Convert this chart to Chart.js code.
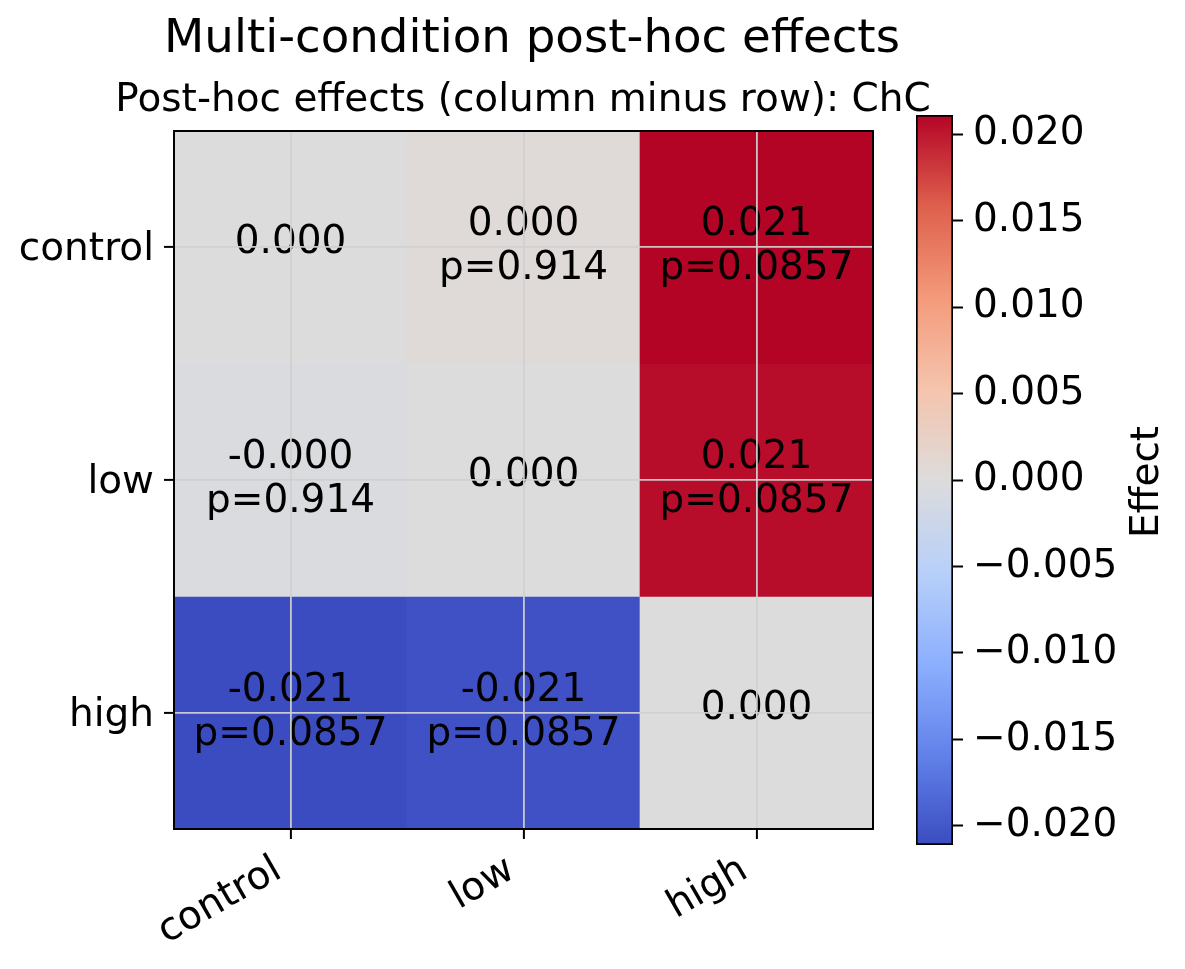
<!DOCTYPE html>
<html>
<head>
<meta charset="utf-8">
<script src="https://cdn.jsdelivr.net/npm/chart.js@4.4.1/dist/chart.umd.min.js"></script>
<style>
    body { margin: 0; background: #fff; }
    #wrap { position: relative; width: 1185px; height: 969px; }
    #heatChart { position: absolute; left: 0; top: 0; }
    #barChart { position: absolute; left: 880px; top: 0; }
</style>
</head>
<body>
<div id="wrap">
    <canvas id="heatChart" width="1185" height="969"></canvas>
    <canvas id="barChart" width="305" height="969"></canvas>
</div>
<script>
// conditions (rows and columns)
const conditions = ['control', 'low', 'high'];

// effect = column minus row, one array per row
const effectControl = [0, 0.0004, 0.0211];
const effectLow = [-0.0004, 0, 0.0206];
const effectHigh = [-0.0211, -0.0206, 0];

// p values, null on the diagonal
const pControl = [null, 0.914, 0.0857];
const pLow = [0.914, null, 0.0857];
const pHigh = [0.0857, 0.0857, null];

// colorbar ticks
const colorbarTicks = [-0.020, -0.015, -0.010, -0.005, 0, 0.005, 0.010, 0.015, 0.020];

const effects = [effectControl, effectLow, effectHigh];
const pValues = [pControl, pLow, pHigh];

const vmax = Math.max(...effects.flat().map(Math.abs));
const vmin = -vmax;

const FONT = "'DejaVu Sans', sans-serif";
Chart.defaults.color = '#000';
Chart.defaults.font.family = FONT;

// coolwarm stops
const coolwarmStops = [
    [0.0, [59, 76, 192]],
    [0.125, [98, 130, 234]],
    [0.25, [141, 176, 254]],
    [0.375, [184, 208, 249]],
    [0.5, [221, 220, 220]],
    [0.625, [245, 196, 173]],
    [0.75, [244, 154, 123]],
    [0.875, [222, 96, 77]],
    [1.0, [180, 4, 38]]
];

function coolwarm(t) {
    t = Math.min(1, Math.max(0, t));
    for (let i = 1; i < coolwarmStops.length; i++) {
        const [t1, c1] = coolwarmStops[i];
        const [t0, c0] = coolwarmStops[i - 1];
        if (t <= t1) {
            const f = (t - t0) / (t1 - t0);
            const c = c0.map((v, k) => Math.round(v + (c1[k] - v) * f));
            return 'rgb(' + c.join(',') + ')';
        }
    }
}

function colorFor(v) {
    return coolwarm((v - vmin) / (vmax - vmin));
}

// titles drawn by hand so canvas does not squeeze them into the plot width
const titles = {
    id: 'titles',
    afterDraw(chart) {
        const ctx = chart.ctx;
        ctx.save();
        ctx.fillStyle = '#000';
        ctx.textAlign = 'center';
        ctx.textBaseline = 'middle';
        ctx.font = '46.7px ' + FONT;
        ctx.fillText('Multi-condition post-hoc effects', 532, 40);
        ctx.font = '39px ' + FONT;
        ctx.fillText('Post-hoc effects (column minus row): ChC', 523, 101);
        ctx.restore();
    }
};

// cell annotations, drawn before the grid (grid sits on top, like the original)
const cellText = {
    id: 'cellText',
    afterDatasetsDraw(chart) {
        const ctx = chart.ctx;
        const xs = chart.scales.x, ys = chart.scales.y;
        ctx.save();
        ctx.font = '39px ' + FONT;
        ctx.fillStyle = '#000';
        ctx.textAlign = 'center';
        ctx.textBaseline = 'middle';
        effects.forEach(function (row, r) {
            row.forEach(function (v, c) {
                const x = xs.getPixelForValue(c);
                const y = ys.getPixelForValue(r);
                const p = pValues[r][c];
                if (p === null) {
                    ctx.fillText(v.toFixed(3), x, y - 4);
                } else {
                    ctx.fillText(v.toFixed(3), x, y - 22);
                    ctx.fillText('p=' + p.toPrecision(3), x, y + 22);
                }
            });
        });
        ctx.restore();
    }
};

const frame = {
    id: 'frame',
    afterDraw(chart) {
        const a = chart.chartArea;
        const ctx = chart.ctx;
        ctx.save();
        ctx.strokeStyle = '#000';
        ctx.lineWidth = 2;
        ctx.strokeRect(a.left, a.top, a.right - a.left, a.bottom - a.top);
        ctx.restore();
    }
};

var heatChart = new Chart(document.getElementById('heatChart').getContext('2d'), {
    type: 'bar',
    data: {
        labels: conditions,
        datasets: effects.map(function (row, r) {
            return {
                label: conditions[r],
                data: conditions.map(() => [r - 0.5, r + 0.5]),
                backgroundColor: row.map(colorFor),
                borderWidth: 0,
                grouped: false,
                barPercentage: 1,
                categoryPercentage: 1
            };
        })
    },
    options: {
        responsive: false,
        animation: false,
        layout: { padding: { left: 0, right: 312, top: 131, bottom: 0 } },
        plugins: {
            legend: { display: false },
            tooltip: { enabled: false }
        },
        scales: {
            x: {
                z: 1,
                offset: true,
                grid: {
                    z: 1,
                    offset: false,
                    color: 'rgba(208,208,208,0.95)',
                    lineWidth: 1.8,
                    tickColor: '#000',
                    tickWidth: 2,
                    tickLength: 10
                },
                border: { color: '#000', width: 2, z: 2 },
                ticks: {
                    font: { size: 39 },
                    minRotation: 30,
                    maxRotation: 30,
                    padding: 8,
                    labelOffset: -12
                },
                afterFit: function (scale) { scale.height = 140; }
            },
            y: {
                z: 1,
                type: 'linear',
                reverse: true,
                min: -0.5,
                max: 2.5,
                afterBuildTicks: function (scale) {
                    scale.ticks = conditions.map((c, i) => ({ value: i }));
                },
                grid: {
                    z: 1,
                    color: 'rgba(208,208,208,0.95)',
                    lineWidth: 1.8,
                    tickColor: '#000',
                    tickWidth: 2,
                    tickLength: 10
                },
                border: { color: '#000', width: 2, z: 2 },
                ticks: {
                    font: { size: 39 },
                    padding: 10,
                    labelOffset: 3,
                    callback: function (v) { return conditions[v]; }
                },
                afterFit: function (scale) { scale.width = 174; }
            }
        }
    },
    plugins: [cellText, frame, titles]
});

// colorbar
const effectLabel = {
    id: 'effectLabel',
    afterDraw(chart) {
        const ctx = chart.ctx;
        ctx.save();
        ctx.translate(268, 482);
        ctx.rotate(-Math.PI / 2);
        ctx.font = '39px ' + FONT;
        ctx.fillStyle = '#000';
        ctx.textAlign = 'center';
        ctx.textBaseline = 'middle';
        ctx.fillText('Effect', 0, 0);
        ctx.restore();
    }
};

var barChart = new Chart(document.getElementById('barChart').getContext('2d'), {
    type: 'bar',
    data: {
        labels: ['Effect'],
        datasets: [{
            data: [[vmin, vmax]],
            backgroundColor: function (context) {
                const area = context.chart.chartArea;
                if (!area) return '#ddd';
                const g = context.chart.ctx.createLinearGradient(0, area.bottom, 0, area.top);
                coolwarmStops.forEach(s => g.addColorStop(s[0], coolwarm(s[0])));
                return g;
            },
            borderColor: '#000',
            borderWidth: 2,
            borderSkipped: false,
            barPercentage: 1,
            categoryPercentage: 1
        }]
    },
    options: {
        responsive: false,
        animation: false,
        layout: { padding: { left: 36, top: 115, bottom: 124, right: 0 } },
        plugins: { legend: { display: false }, tooltip: { enabled: false } },
        scales: {
            x: { display: false },
            y: {
                position: 'right',
                min: vmin,
                max: vmax,
                afterBuildTicks: function (scale) {
                    scale.ticks = colorbarTicks.map(v => ({ value: v }));
                },
                grid: {
                    drawOnChartArea: false,
                    tickColor: '#000',
                    tickWidth: 2,
                    tickLength: 10
                },
                border: { display: false },
                ticks: {
                    font: { size: 39 },
                    padding: 10,
                    callback: function (v) { return v.toFixed(3).replace('-', '\u2212'); }
                },
                afterFit: function (scale) { scale.width = 232; }
            }
        }
    },
    plugins: [effectLabel]
});
</script>
</body>
</html>
